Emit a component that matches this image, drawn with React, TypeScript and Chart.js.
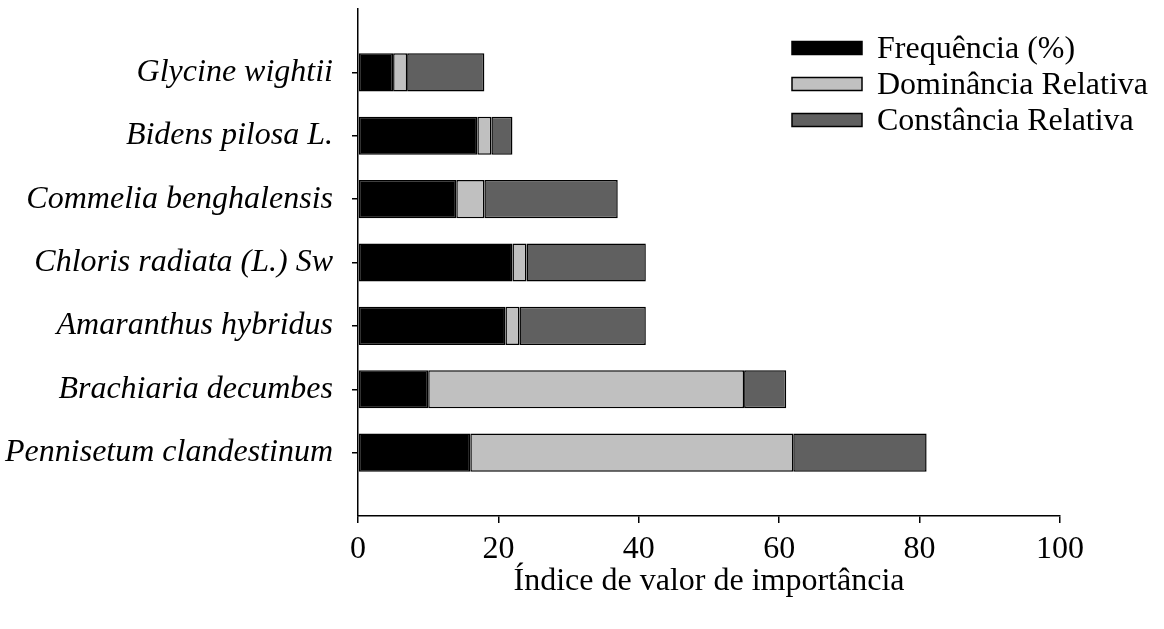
import React, { useEffect, useRef } from "react";
import { Chart, registerables } from "chart.js";

Chart.register(...registerables);

const species = [
  "",
  "Glycine wightii",
  "Bidens pilosa L.",
  "Commelia benghalensis",
  "Chloris radiata (L.) Sw",
  "Amaranthus hybridus",
  "Brachiaria decumbes",
  "Pennisetum clandestinum",
  "",
];
const frequencia = [null, 5, 17, 14, 22, 21, 10, 16, null];
const dominancia = [null, 2, 2, 4, 2, 2, 45, 46, null];
const constancia = [null, 11, 3, 19, 17, 18, 6, 19, null];
const seriesNames = ["Frequência (%)", "Dominância Relativa", "Constância Relativa"];
const seriesColors = ["#000000", "#c0c0c0", "#606060"];
const xTicks = [0, 20, 40, 60, 80, 100];
const xTitle = "Índice de valor de importância";

const SERIF = "'Liberation Serif', 'Times New Roman', serif";

const legendPlugin = {
  id: "customLegend",
  afterDraw(chart: any) {
    const ctx = chart.ctx;
    ctx.save();
    const boxX = 792;
    const boxW = 70;
    const boxH = 13;
    const textX = 877;
    const baselines = [58, 94, 130];
    ctx.font = `32px ${SERIF}`;
    ctx.textBaseline = "alphabetic";
    ctx.textAlign = "left";
    chart.data.datasets.forEach((ds: any, i: number) => {
      const b = baselines[i];
      const cy = b - 10;
      ctx.fillStyle = ds.backgroundColor;
      ctx.fillRect(boxX, cy - boxH / 2, boxW, boxH);
      ctx.strokeStyle = "#000";
      ctx.lineWidth = 1.5;
      ctx.strokeRect(boxX, cy - boxH / 2, boxW, boxH);
      ctx.fillStyle = "#000";
      ctx.fillText(ds.label, textX, b);
    });
    ctx.restore();
  },
};

export default function App() {
  const ref = useRef<HTMLCanvasElement>(null);
  useEffect(() => {
    document.body.style.margin = "0";
    const canvas = ref.current!;
    const data = [frequencia, dominancia, constancia];
    const chart = new Chart(canvas, {
      type: "bar",
      data: {
        labels: species,
        datasets: data.map((d, i) => ({
          label: seriesNames[i],
          data: d as any,
          backgroundColor: seriesColors[i],
          borderColor: "#000000",
          borderWidth: 1.5,
          borderSkipped: false,
          categoryPercentage: 1,
          barPercentage: 0.6,
        })),
      },
      options: {
        indexAxis: "y",
        animation: false,
        responsive: false,
        devicePixelRatio: 1,
        layout: { padding: { top: 9, right: 104, left: 0, bottom: 0 } },
        plugins: {
          legend: { display: false },
          tooltip: { enabled: false },
        },
        scales: {
          x: {
            stacked: true,
            min: 0,
            max: 100,
            afterBuildTicks: (scale: any) => {
              scale.ticks = xTicks.map((v) => ({ value: v }));
            },
            afterFit: (scale: any) => {
              scale.height = 113;
              scale.paddingLeft = 0;
              scale.paddingRight = 0;
            },
            border: { display: true, color: "#000", width: 1.5 },
            grid: {
              display: true,
              drawOnChartArea: false,
              drawTicks: true,
              tickLength: 7,
              color: "#000",
              lineWidth: 1.5,
            },
            ticks: {
              color: "#000",
              padding: 7,
              font: { family: SERIF, size: 32 },
            },
            title: {
              display: true,
              text: xTitle,
              color: "#000",
              font: { family: SERIF, size: 32 },
              padding: { top: 0, bottom: 28 },
            },
          },
          y: {
            stacked: true,
            offset: false,
            afterFit: (scale: any) => {
              scale.width = 358;
              scale.paddingTop = 0;
              scale.paddingBottom = 0;
            },
            border: { display: true, color: "#000", width: 1.5 },
            grid: {
              display: true,
              offset: false,
              drawOnChartArea: false,
              drawTicks: true,
              tickLength: 6,
              lineWidth: 1.5,
              color: (c: any) =>
                c.index === 0 || c.index === species.length - 1 ? "rgba(0,0,0,0)" : "#000",
            },
            ticks: {
              color: "#000",
              padding: 19,
              autoSkip: false,
              font: { family: SERIF, size: 32, style: "italic" },
            },
          },
        },
      },
      plugins: [legendPlugin],
    });
    return () => chart.destroy();
  }, []);
  return (
    <div style={{ width: 1164, height: 629 }}>
      <canvas ref={ref} width={1164} height={629} style={{ display: "block" }} />
    </div>
  );
}
